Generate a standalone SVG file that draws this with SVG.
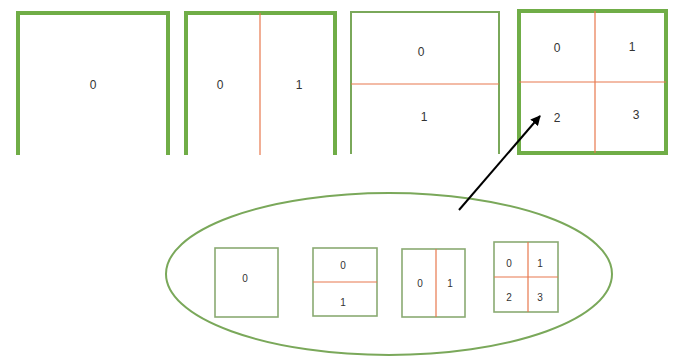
<svg xmlns="http://www.w3.org/2000/svg" width="675" height="362" viewBox="0 0 675 362">
<style>
.thick{fill:none;stroke:#70ad47;stroke-width:4}
.thin{fill:none;stroke:#7aa85a;stroke-width:2}
.sm{fill:none;stroke:#8aaa72;stroke-width:1.6}
.div{stroke:#e8784e;stroke-width:1.2}
text{font-family:"Liberation Sans",Arial,sans-serif;font-size:12px;fill:#333;text-anchor:middle;dominant-baseline:central}
.s{font-size:10px}
</style>
<defs>
<marker id="ah" markerWidth="10" markerHeight="10" refX="9" refY="5" orient="auto" markerUnits="userSpaceOnUse">
<path d="M0,0 L10,5 L0,10 Z" fill="#000"/>
</marker>
</defs>
<rect width="675" height="362" fill="#fff"/>
<g id="panel1">
<path class="thick" d="M18,155 V13 H168 V155"/>
<text x="93" y="85">0</text>
</g>
<g id="panel2">
<path class="thick" d="M186,155 V13 H335 V155"/>
<line class="div" x1="260" y1="13" x2="260" y2="155"/>
<text x="220" y="85">0</text>
<text x="299" y="85">1</text>
</g>
<g id="panel3">
<path class="thin" d="M351,154 V12 H499 V154"/>
<line class="div" x1="351" y1="84" x2="499" y2="84"/>
<text x="421" y="52">0</text>
<text x="424" y="117">1</text>
</g>
<g id="panel4">
<rect class="thick" x="519" y="11" width="147" height="142"/>
<line class="div" x1="595" y1="11" x2="595" y2="153"/>
<line class="div" x1="519" y1="82" x2="666" y2="82"/>
<text x="557" y="48">0</text>
<text x="632" y="47">1</text>
<text x="557" y="118">2</text>
<text x="636" y="115">3</text>
</g>
<g id="group">
<ellipse class="thin" cx="389" cy="274" rx="223" ry="81" stroke-width="1.5"/>
</g>
<g id="boxA">
<rect class="sm" x="215" y="248" width="63" height="69"/>
<text class="s" x="245" y="278">0</text>
</g>
<g id="boxB">
<rect class="sm" x="313" y="248" width="64" height="68"/>
<line class="div" x1="313" y1="282" x2="377" y2="282"/>
<text class="s" x="343" y="265">0</text>
<text class="s" x="343" y="302">1</text>
</g>
<g id="boxC">
<rect class="sm" x="402" y="249" width="63" height="68"/>
<line class="div" x1="436" y1="249" x2="436" y2="317"/>
<text class="s" x="420" y="283">0</text>
<text class="s" x="450" y="283">1</text>
</g>
<g id="boxD">
<rect class="sm" x="494" y="242" width="64" height="70"/>
<line class="div" x1="528" y1="242" x2="528" y2="312"/>
<line class="div" x1="494" y1="277" x2="558" y2="277"/>
<text class="s" x="509" y="263">0</text>
<text class="s" x="540" y="263">1</text>
<text class="s" x="509" y="297">2</text>
<text class="s" x="540" y="297">3</text>
</g>
<g id="connectors">
<line x1="459" y1="210" x2="540" y2="116" stroke="#000" stroke-width="2" marker-end="url(#ah)"/>
</g>
</svg>
